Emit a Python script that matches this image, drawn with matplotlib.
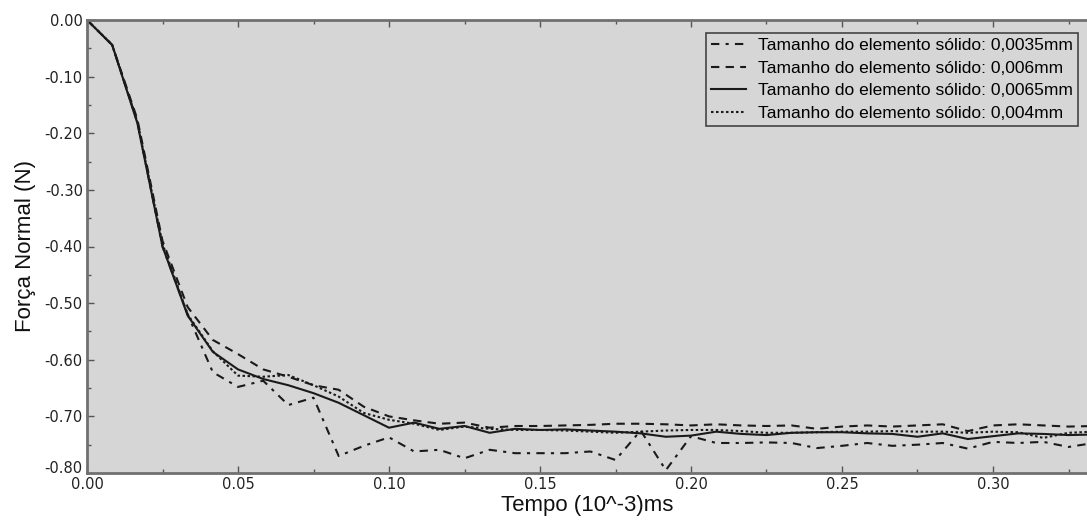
import matplotlib
matplotlib.use("Agg")
import matplotlib.pyplot as plt
import matplotlib.transforms as mtransforms
from matplotlib.ticker import MultipleLocator, FormatStrFormatter

plt.rcParams["axes.unicode_minus"] = False

# time samples (10^-3 ms), one every 1/120
tempo = [k / 120 for k in range(41)]

forca_00035 = [0, -0.044, -0.18, -0.40, -0.52, -0.622, -0.648, -0.637, -0.680, -0.667,
               -0.770, -0.752, -0.737, -0.762, -0.759, -0.774, -0.759, -0.765, -0.765, -0.765,
               -0.762, -0.777, -0.725, -0.795, -0.735, -0.747, -0.747, -0.746, -0.747, -0.756,
               -0.752, -0.747, -0.752, -0.750, -0.747, -0.757, -0.745, -0.747, -0.745, -0.754,
               -0.747]
forca_0006 = [0, -0.044, -0.175, -0.39, -0.507, -0.565, -0.590, -0.617, -0.630, -0.645,
              -0.653, -0.683, -0.700, -0.707, -0.713, -0.711, -0.720, -0.717, -0.717, -0.716,
              -0.715, -0.713, -0.713, -0.714, -0.716, -0.714, -0.716, -0.717, -0.716, -0.722,
              -0.718, -0.716, -0.718, -0.716, -0.714, -0.726, -0.716, -0.714, -0.716, -0.718,
              -0.717]
forca_00065 = [0, -0.044, -0.182, -0.40, -0.522, -0.586, -0.617, -0.634, -0.645, -0.659,
               -0.676, -0.698, -0.720, -0.711, -0.722, -0.717, -0.729, -0.722, -0.724, -0.723,
               -0.725, -0.727, -0.730, -0.736, -0.734, -0.727, -0.731, -0.733, -0.729, -0.728,
               -0.728, -0.730, -0.731, -0.736, -0.730, -0.740, -0.735, -0.730, -0.731, -0.733,
               -0.732]
forca_0004 = [0, -0.044, -0.18, -0.395, -0.52, -0.585, -0.628, -0.630, -0.627, -0.645,
              -0.665, -0.694, -0.706, -0.713, -0.724, -0.718, -0.722, -0.724, -0.724, -0.725,
              -0.727, -0.729, -0.727, -0.725, -0.724, -0.724, -0.726, -0.729, -0.729, -0.728,
              -0.727, -0.727, -0.726, -0.727, -0.727, -0.729, -0.727, -0.728, -0.738, -0.729,
              -0.727]

labels = ["Tamanho do elemento sólido: 0,0035mm",
          "Tamanho do elemento sólido: 0,006mm",
          "Tamanho do elemento sólido: 0,0065mm",
          "Tamanho do elemento sólido: 0,004mm"]

fig = plt.figure(figsize=(10.87, 5.23), dpi=100)
ax = fig.add_axes([87 / 1087, 50 / 523, 1000 / 1087, 453 / 523])
ax.set_facecolor("#d6d6d6")

lc = "#1a1a1a"
ax.plot(tempo, forca_00035, color=lc, lw=1.5, dashes=(4, 3, 1.5, 3), label=labels[0])
ax.plot(tempo, forca_0006, color=lc, lw=1.5, dashes=(4, 3), label=labels[1])
ax.plot(tempo, forca_00065, color=lc, lw=1.5, linestyle="-", label=labels[2])
ax.plot(tempo, forca_0004, color=lc, lw=1.5, dashes=(1.2, 1.2), label=labels[3])

ax.set_xlim(0, 1000 / 3020)
ax.set_ylim(-0.8, 0)
ax.xaxis.set_major_locator(MultipleLocator(0.05))
ax.xaxis.set_minor_locator(MultipleLocator(0.025))
ax.yaxis.set_major_locator(MultipleLocator(0.1))
ax.yaxis.set_minor_locator(MultipleLocator(0.05))
ax.xaxis.set_major_formatter(FormatStrFormatter("%.2f"))
ax.yaxis.set_major_formatter(FormatStrFormatter("%.2f"))

ax.tick_params(which="both", direction="in", top=True, right=False,
               colors="#555555", labelcolor="#222222", labelsize=10.5, pad=3)
ax.tick_params(which="major", length=5, width=1)
ax.tick_params(which="minor", length=3, width=1)

for side in ["top", "left", "bottom"]:
    ax.spines[side].set_color("#707070")
    ax.spines[side].set_linewidth(2)
ax.spines["right"].set_visible(False)

ax.set_xlabel("Tempo (10^-3)ms", fontsize=16, family="Liberation Sans", color="#111111", labelpad=2)
ax.set_ylabel("Força Normal (N)", fontsize=16, family="Liberation Sans", color="#111111", labelpad=6)

leg = ax.legend(loc="upper right", bbox_to_anchor=(0.991, 0.971),
                prop={"family": "Liberation Sans", "size": 12.5},
                fancybox=False, framealpha=1, facecolor="#d6d6d6", edgecolor="#444444",
                handlelength=2.0, handletextpad=0.7, borderpad=0.3, labelspacing=0.42,
                borderaxespad=0)
leg.get_frame().set_linewidth(1.2)

# lift the bottom y label (-0.80) above the corner, as in the original
fig.canvas.draw()
for tick in ax.yaxis.get_major_ticks():
    if abs(tick.get_loc() + 0.8) < 1e-6:
        lab = tick.label1
        lab.set_transform(lab.get_transform() +
                          mtransforms.ScaledTranslation(0, 6 / 100, fig.dpi_scale_trans))

fig.savefig("out.png", dpi=100)
